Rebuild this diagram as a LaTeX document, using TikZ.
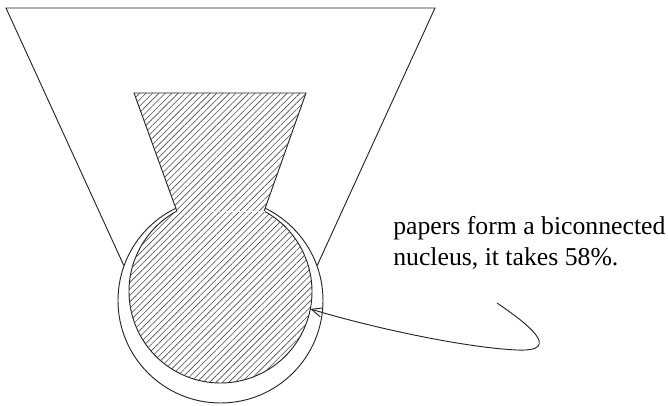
\documentclass[tikz,border=0pt]{standalone}
\usepackage{fontspec}
\setmainfont{Liberation Serif}
\usetikzlibrary{arrows.meta, patterns.meta, calc}

\tikzset{
  outline/.style={line width=0.7pt, black!85},
  hatched/.style={fill=white, postaction={pattern={Lines[angle=45, distance=3.4pt, line width=0.45pt]}, pattern color=black!70}},
}

\begin{document}
\begin{tikzpicture}[x=0.75pt, y=-0.75pt]
    \useasboundingbox (0,0) rectangle (668,406);

    % Centres of the two circles
    \coordinate (C) at (220.5,300.5);
    \coordinate (N) at (220.5,291.5);

    % Funnel and outer circle
    \coordinate (TL) at (6,8);
    \coordinate (TR) at (435,8);
    \draw[outline] (C) circle (102.5);
    \draw[outline] ($(C)+(200:103)$) -- (TL) -- (TR) -- ($(C)+(-20:103)$);

    % Hatched nucleus
    \coordinate (JR) at ($(N)+(-61.5:91.5)$);
    \coordinate (JL) at ($(N)+(241.5:91.5)$);
    \draw[outline, hatched] (134,93) -- (306,93) -- (JR)
        arc[start angle=-61.5, end angle=241.5, radius=91.5] -- cycle;
    \draw[white, line width=0.6pt, dash pattern=on 2.5pt off 2.5pt] (JL) -- (JR);

    % Label and pointer
    \node[font=\fontsize{19.3}{24}\selectfont, align=left, anchor=base west, inner sep=0pt] (note) at (393,266)
        {papers form a biconnected\\nucleus, it takes 58\%.};
    \coordinate (tail) at (497,303);
    \coordinate (tip) at ($(N)+(11:91.5)$);
    \draw[outline, -{Straight Barb[length=8pt, width=7pt]}] (tail)
        .. controls (525,322) and (565,352) .. (517,350)
        .. controls (470,348) and (380,330) .. (tip);
\end{tikzpicture}
\end{document}
